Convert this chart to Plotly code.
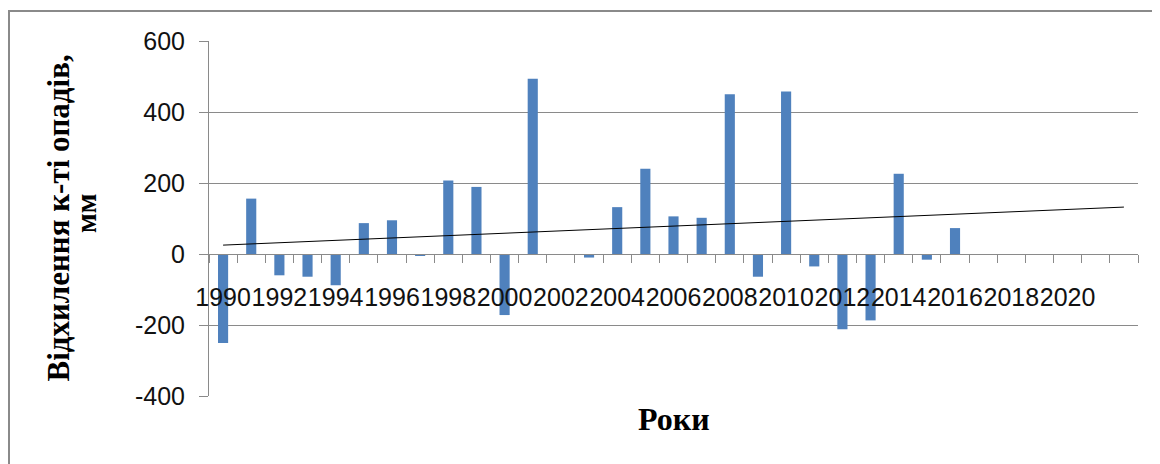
import numpy as np
import plotly.graph_objects as go

# ---- data ----
years = list(range(1990, 2017))
deviation = [-251, 156, -60, -64, -88, 87, 95, -5, 207, 189,
             -172, 494, 0, -10, 132, 240, 106, 102, 450, -64,
             458, -35, -212, -187, 226, -16, 73]
all_years = list(range(1990, 2023))
label_years = list(range(1990, 2021, 2))
y_ticks = [-400, -200, 0, 200, 400, 600]
y_tick_text = ["-400", "-200", "0", "200", "400", "600"]

y_title = "Відхилення к-ті опадів,"
y_title2 = "мм"
x_title = "Роки"

# linear trend (as in the original spreadsheet trendline)
coef = np.polyfit(years, deviation, 1)
trend_x = [all_years[0], all_years[-1]]
trend_y = list(np.polyval(coef, trend_x))

GRAY = "#8a8a8a"
BAR = "#4F81BD"
TXT = "#111111"

fig = go.Figure()
fig.add_trace(go.Bar(x=years, y=deviation, width=0.36,
                     marker=dict(color=BAR, line=dict(width=0)),
                     showlegend=False, hoverinfo="x+y"))
fig.add_trace(go.Scatter(x=trend_x, y=trend_y, mode="lines",
                         line=dict(color="black", width=1),
                         showlegend=False, hoverinfo="skip"))

OFF = 8  # page body margin
W, H = 1160, 464
# plot area in screen pixels
SL, SR, ST, SB = 209, 1138, 41, 396
L, T = SL - OFF, ST - OFF
R, B = W - (SR - OFF), H - (SB - OFF)
pw, ph = SR - SL, SB - ST

def px(x):
    return (x - SL) / pw

def py(y):
    return (SB - y) / ph

fig.update_layout(
    template="none",
    width=W, height=H,
    margin=dict(l=L, r=R, t=T, b=B, pad=0, autoexpand=False),
    paper_bgcolor="white", plot_bgcolor="white",
    xaxis=dict(
        automargin=False,
        range=[all_years[0] - 0.5, all_years[-1] + 0.5],
        anchor="free", position=0.4,
        showline=True, linecolor=GRAY, linewidth=1,
        showgrid=False, zeroline=False,
        tickmode="array", tickvals=label_years,
        ticktext=[str(v) for v in label_years],
        tickangle=0,
        ticks="outside", ticklen=0, tickcolor=GRAY,
        ticklabelstandoff=21,
        tickfont=dict(family="Liberation Sans", size=25, color=TXT),
        minor=dict(tickmode="array",
                   tickvals=[v - 0.5 for v in all_years] + [all_years[-1] + 0.5],
                   ticks="outside", ticklen=8, tickcolor=GRAY, showgrid=False),
    ),
    yaxis=dict(
        automargin=False,
        range=[-400, 600], domain=[0, 1],
        tickmode="array", tickvals=y_ticks, ticktext=y_tick_text,
        showline=True, linecolor=GRAY, linewidth=1,
        showgrid=True, gridcolor=GRAY, gridwidth=1,
        zeroline=False,
        ticks="outside", ticklen=9, tickcolor=GRAY,
        ticklabelstandoff=9,
        tickfont=dict(family="Liberation Sans", size=25, color=TXT),
    ),
    bargap=0.64,
    annotations=[
        dict(text=y_title, xref="paper", yref="paper", x=px(58), y=0.5,
             xanchor="center", yanchor="middle", textangle=-90, showarrow=False,
             font=dict(family="Liberation Serif", size=31, color="black", weight="bold")),
        dict(text=y_title2, xref="paper", yref="paper", x=px(86), y=py(213),
             xanchor="center", yanchor="middle", textangle=-90, showarrow=False,
             font=dict(family="Liberation Serif", size=29, color="black", weight="bold")),
        dict(text=x_title, xref="paper", yref="paper", x=0.5, y=py(419),
             xanchor="center", yanchor="middle", showarrow=False,
             font=dict(family="Liberation Serif", size=32, color="black", weight="bold")),
    ],
    shapes=[
        dict(type="rect", xref="paper", yref="paper",
             x0=px(9), x1=px(1175), y0=py(480), y1=py(11),
             line=dict(color=GRAY, width=2), fillcolor="rgba(0,0,0,0)", layer="below"),
    ],
)

fig.write_html("out.html")
